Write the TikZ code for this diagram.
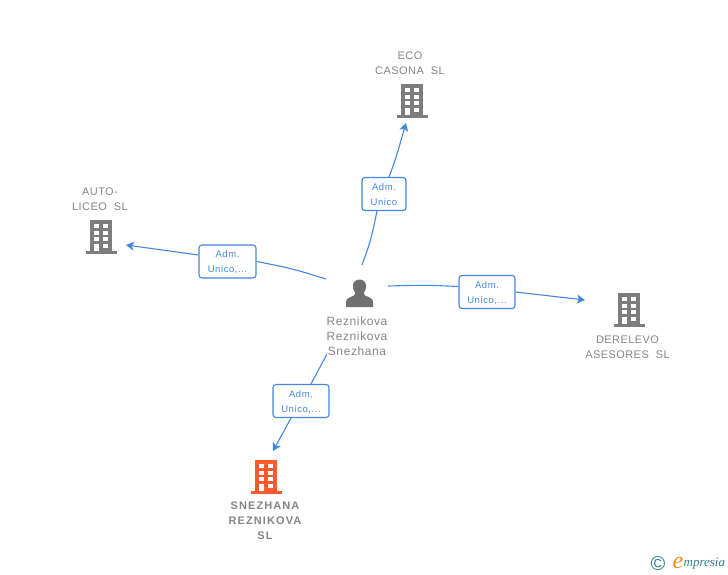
\documentclass[tikz,border=0pt]{standalone}
\usepackage{fontspec}
\setmainfont{Liberation Sans}
\newfontfamily\namefont[LetterSpace=4]{Liberation Sans}
\newfontfamily\personfont[LetterSpace=5]{Liberation Sans}
\newfontfamily\boldnamefont[LetterSpace=10]{Liberation Sans}
\newfontfamily\admfont[LetterSpace=6]{Liberation Sans}
\newfontfamily\logofont{Liberation Serif}
\definecolor{linkblue}{HTML}{4387E0}
\definecolor{buildgrey}{HTML}{7D7D7D}
\definecolor{buildred}{HTML}{FF5A2B}
\definecolor{textgrey}{HTML}{858585}
\definecolor{logoteal}{HTML}{2F7F8F}
\definecolor{logoorange}{HTML}{F08A1D}
\usetikzlibrary{arrows.meta}
\tikzset{
  namelabel/.style={text=textgrey, font=\namefont\fontsize{11}{15}\selectfont, align=center, inner sep=0pt},
  admbox/.style={draw=linkblue, line width=1.1pt, fill=white, rounded corners=3pt, text=linkblue,
    font=\admfont\fontsize{9.5}{15}\selectfont, align=center, inner sep=0pt, minimum height=33pt, text height=24pt},
  link/.style={draw=linkblue, line width=1.1pt},
  linkarrow/.style={link, -{Stealth[length=8pt,width=9pt,inset=2pt]}}
}
\newcommand{\drawbuilding}[4]{%
\begin{scope}[shift={(#1,#2)}]
\node[minimum width=31pt, minimum height=34pt, inner sep=0pt] (#3) at (0,0) {};
\fill[#4] (-11,-17) rectangle (11,15);
\fill[#4] (-15.5,14) rectangle (15.5,17);
\foreach \j in {-13,-6.3,0.3,7}
{
\fill[white] (-7,\j) rectangle ++ (5,4);
\fill[white] (2.3,\j) rectangle ++ (5,4);
}
\fill[white] (-7,7) rectangle (-2,14.3);
\end{scope}
}
\begin{document}
\begin{tikzpicture}[x=1pt,y=-1pt]
\useasboundingbox (0,0) rectangle (728,575);

\drawbuilding{412}{101}{eco}{buildgrey}
\drawbuilding{101}{237}{auto}{buildgrey}
\drawbuilding{629}{310}{derelevo}{buildgrey}
\drawbuilding{266}{477}{snezhana}{buildred}

\node[namelabel] (econame) at (410,63) {ECO\\CASONA\ \ SL};
\node[namelabel] (autoname) at (100,199) {AUTO-\\LICEO\ \ SL};
\node[namelabel] (derelevoname) at (627.5,347) {DERELEVO\\ASESORES\ \ SL};
\node[namelabel, font=\boldnamefont\fontsize{11}{15}\selectfont\bfseries] (snezhananame) at (265,521) {SNEZHANA\\REZNIKOVA\\SL};

\node[minimum width=27pt, minimum height=27pt, inner sep=0pt] (person) at (359.5,293.5) {};
\fill[buildgrey!90!black] (346,307) -- (346,302) .. controls (346,298) and (350,297.5) .. (354,295.5)
  .. controls (355.5,294.5) and (355.5,293) .. (354.5,291.5)
  .. controls (352.5,288.5) and (353,286) .. (353,285.5)
  .. controls (353,282) and (356,279.5) .. (359.5,279.5)
  .. controls (363,279.5) and (366,282) .. (366,285.5)
  .. controls (366,286) and (366.5,288.5) .. (364.5,291.5)
  .. controls (363.5,293) and (363.5,294.5) .. (365,295.5)
  .. controls (369,297.5) and (373,298) .. (373,302) -- (373,307) -- cycle;
\node[namelabel, font=\personfont\fontsize{12}{15}\selectfont] (personname) at (357,336) {Reznikova\\Reznikova\\Snezhana};

\node[admbox, minimum width=44pt] (admeco) at (384,194) {Adm.\\Unico};
\node[admbox, minimum width=57pt] (admauto) at (227.5,261.5) {Adm.\\Unico,...};
\node[admbox, minimum width=56pt] (admderelevo) at (487,292) {Adm.\\Unico,...};
\node[admbox, minimum width=56pt] (admsnezhana) at (301,401) {Adm.\\Unico,...};

\coordinate (starteco) at (362,265);
\coordinate (startauto) at (326,279);
\coordinate (startderelevo) at (388,286);
\coordinate (startsnezhana) at (327,354);
\coordinate (tipeco) at (406,123);
\coordinate (tipauto) at (126,245);
\coordinate (tipderelevo) at (585,300);
\coordinate (tipsnezhana) at (273,451);

\draw[link] (starteco) .. controls (371,240) .. (admeco.south -| 377,0);
\draw[linkarrow] (admeco.north -| 389,0) .. controls (396,158) .. (tipeco);
\draw[link] (startauto) .. controls (292,268.5) .. (admauto.east);
\draw[linkarrow] (admauto.west |- 0,255) -- (tipauto);
\draw[link] (startderelevo) .. controls (425,285) .. (admderelevo.west |- 0,286.5);
\draw[linkarrow] (admderelevo.east) -- (tipderelevo);
\draw[link] (startsnezhana) -- (admsnezhana.north -| 311,0);
\draw[linkarrow] (admsnezhana.south -| 291,0) -- (tipsnezhana);

\node[text=logoteal, font=\fontsize{20}{20}\selectfont, inner sep=0pt] (logomark) at (658,564) {©};
\node[text=logoorange, font=\logofont\itshape\fontsize{24}{24}\selectfont, inner sep=0pt] (logoe) at (678,563) {e};
\node[text=logoteal, font=\logofont\itshape\fontsize{13}{14}\selectfont, inner sep=0pt, anchor=west] (logotext) at (683.5,564) {mpresia};
\end{tikzpicture}
\end{document}
